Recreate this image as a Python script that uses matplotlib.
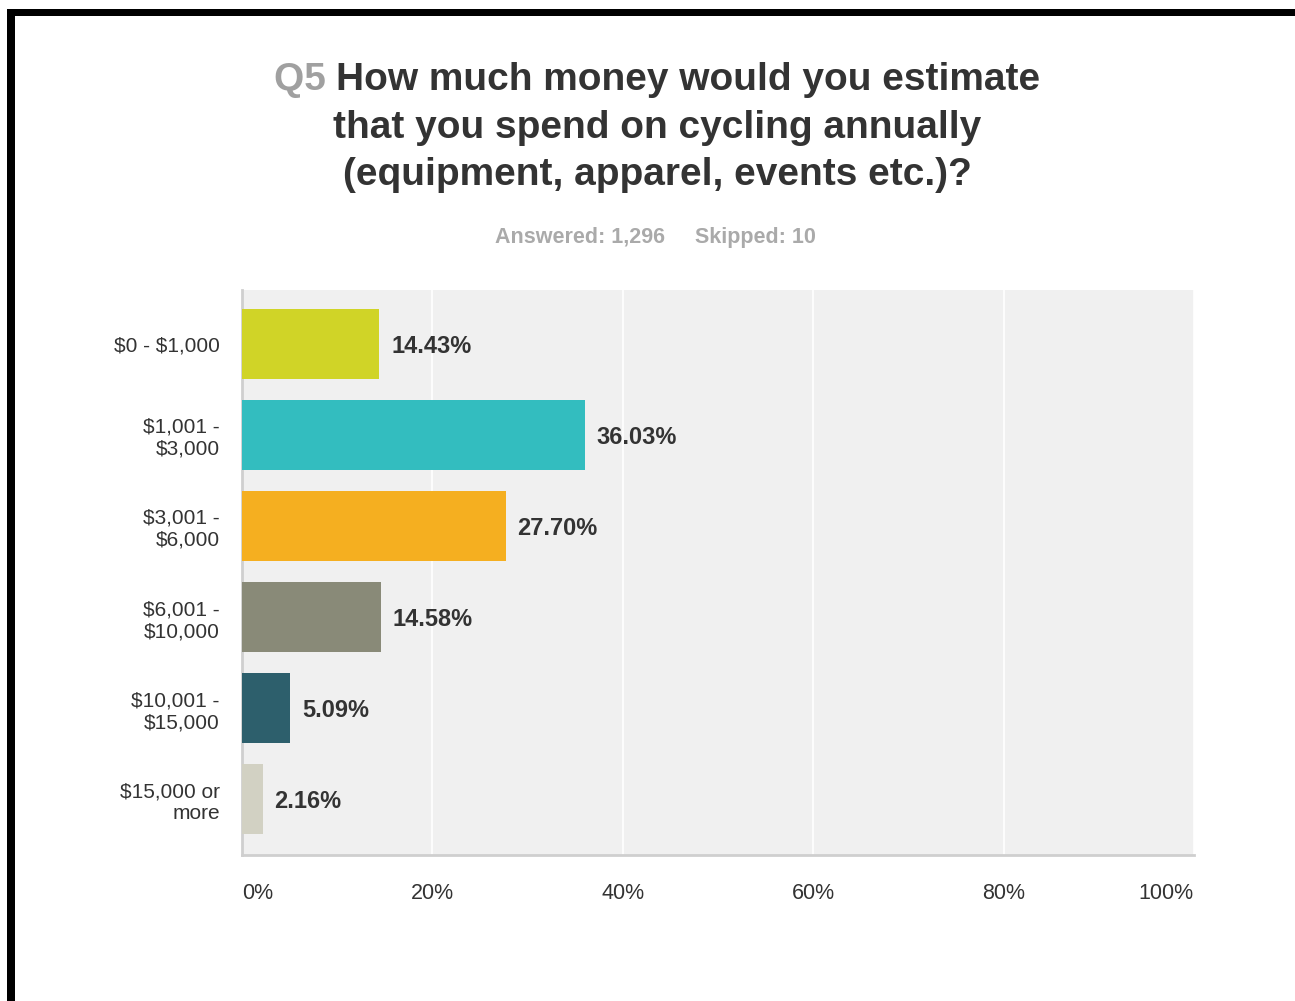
import matplotlib
matplotlib.use("Agg")
import matplotlib.pyplot as plt
from matplotlib.patches import Rectangle

plt.rcParams['font.family'] = ['Liberation Sans', 'DejaVu Sans']
plt.rcParams['text.parse_math'] = False

categories = ["$0 - $1,000", "$1,001 -\n$3,000", "$3,001 -\n$6,000",
              "$6,001 -\n$10,000", "$10,001 -\n$15,000", "$15,000 or\nmore"]
percent = [14.43, 36.03, 27.70, 14.58, 5.09, 2.16]
bar_colors = ["#D0D427", "#33BDBF", "#F5AF20", "#898A78", "#2D5F6C", "#D2D1C3"]
x_ticks = [0, 20, 40, 60, 80, 100]
x_tick_labels = ["0%", "20%", "40%", "60%", "80%", "100%"]

W, H = 1295, 1001
fig = plt.figure(figsize=(W / 100, H / 100), dpi=100)
fig.patch.set_facecolor("white")

# black frame on top and left edges
fig.add_artist(Rectangle((7 / W, 0), 8 / W, 1 - 9 / H, transform=fig.transFigure,
                         facecolor="black", edgecolor="none"))
fig.add_artist(Rectangle((7 / W, 1 - 16 / H), 1, 7 / H, transform=fig.transFigure,
                         facecolor="black", edgecolor="none"))

left, right, top, bottom = 242, 1194, 290, 855
ax = fig.add_axes([left / W, 1 - bottom / H, (right - left) / W, (bottom - top) / H])
ax.set_facecolor("#F0F0F0")

y = list(range(len(categories)))
ax.barh(y, percent, height=0.77, color=bar_colors, zorder=3)
for yi, v in zip(y, percent):
    ax.annotate(f"{v:.2f}%", (v, yi), xytext=(8.5, -2), textcoords="offset points",
                ha="left", va="center", fontsize=17, fontweight="bold",
                color="#333333", zorder=4)

ax.set_xlim(0, 100)
ax.set_ylim(5.615, -0.593)
ax.set_xticks(x_ticks)
ax.set_xticklabels(x_tick_labels, fontsize=15.5, color="#333333")
xl = ax.get_xticklabels()
xl[0].set_horizontalalignment("left")
xl[-1].set_horizontalalignment("right")
ax.set_yticks(y)
ax.set_yticklabels(categories, fontsize=15, color="#333333", linespacing=1.2)
ax.tick_params(axis="both", length=0)
ax.tick_params(axis="x", pad=20)
ax.tick_params(axis="y", pad=16)
ax.xaxis.grid(True, color="white", linewidth=1.2, zorder=1)
ax.set_axisbelow(True)
for s in ["top", "right"]:
    ax.spines[s].set_visible(False)
for s in ["left", "bottom"]:
    ax.spines[s].set_color("#CFCFCF")
    ax.spines[s].set_linewidth(2)

# title block
title_size = 28
q = fig.text(0, 0, "Q5 ", fontsize=title_size, fontweight="bold", color="#A0A0A0", va="center")
m = fig.text(0, 0, "How much money would you estimate", fontsize=title_size,
             fontweight="bold", color="#333333", va="center")
fig.canvas.draw()
r = fig.canvas.get_renderer()
wq = q.get_window_extent(r).width
wm = m.get_window_extent(r).width
x0 = 657 - (wq + wm) / 2
q.set_position((x0 / W, 1 - 80 / H))
m.set_position(((x0 + wq) / W, 1 - 80 / H))

cx = 657 / W
fig.text(cx, 1 - 128 / H, "that you spend on cycling annually", ha="center", va="center",
         fontsize=title_size, fontweight="bold", color="#333333")
fig.text(cx, 1 - 175 / H, "(equipment, apparel, events etc.)?", ha="center", va="center",
         fontsize=title_size, fontweight="bold", color="#333333")
fig.text(655 / W, 1 - 237 / H, "Answered: 1,296     Skipped: 10", ha="center", va="center",
         fontsize=15.5, fontweight="bold", color="#AAAAAA")

fig.savefig("out.png", dpi=100)
